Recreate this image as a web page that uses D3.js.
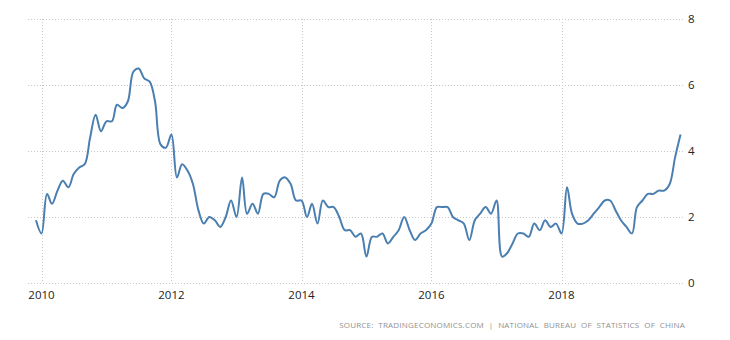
<!DOCTYPE html>
<html>
<head>
<meta charset="utf-8">
<script src="https://cdn.jsdelivr.net/npm/d3@7"></script>
<style>
  html, body { margin: 0; padding: 0; background: #fff; }
  svg { display: block; }
</style>
</head>
<body>
<svg id="chart" width="730" height="340"></svg>
<script>
// China consumer price inflation, year-on-year %, monthly from Dec 2009
const startYear = 2009, startMonth = 11; // 0-based month index (December)
const inflation = [
  1.9,
  1.5, 2.7, 2.4, 2.8, 3.1, 2.9, 3.3, 3.5, 3.6, 4.4, 5.1, 4.6,
  4.9, 4.9, 5.4, 5.3, 5.5, 6.4, 6.5, 6.2, 6.1, 5.5, 4.2, 4.1,
  4.5, 3.2, 3.6, 3.4, 3.0, 2.2, 1.8, 2.0, 1.9, 1.7, 2.0, 2.5,
  2.0, 3.2, 2.1, 2.4, 2.1, 2.7, 2.7, 2.6, 3.1, 3.2, 3.0, 2.5,
  2.5, 2.0, 2.4, 1.8, 2.5, 2.3, 2.3, 2.0, 1.6, 1.6, 1.4, 1.5,
  0.8, 1.4, 1.4, 1.5, 1.2, 1.4, 1.6, 2.0, 1.6, 1.3, 1.5, 1.6,
  1.8, 2.3, 2.3, 2.3, 2.0, 1.9, 1.8, 1.3, 1.9, 2.1, 2.3, 2.1,
  2.5, 0.8, 0.9, 1.2, 1.5, 1.5, 1.4, 1.8, 1.6, 1.9, 1.7, 1.8,
  1.5, 2.9, 2.1, 1.8, 1.8, 1.9, 2.1, 2.3, 2.5, 2.5, 2.2, 1.9,
  1.7, 1.5, 2.3, 2.5, 2.7, 2.7, 2.8, 2.8, 3.0, 3.8, 4.5
];
const yearTicks = [2010, 2012, 2014, 2016, 2018];
const valueTicks = [0, 2, 4, 6, 8];
const sourceText = "SOURCE: TRADINGECONOMICS.COM | NATIONAL BUREAU OF STATISTICS OF CHINA";

const series = inflation.map((v, i) => ({ date: new Date(startYear, startMonth + i, 1), value: v }));

const svg = d3.select("#chart");
const plot = { left: 28, right: 685, top: 19, bottom: 283 };

const x = d3.scaleTime()
  .domain([new Date(2010, 0, 1), new Date(2018, 0, 1)])
  .range([41.5, 561.5]);
const y = d3.scaleLinear().domain([0, 8]).range([plot.bottom, plot.top]);

const gridColor = "#c8c8c8";

// horizontal grid lines with labels on the right
const yAxis = svg.append("g");
yAxis.selectAll("line").data(valueTicks).join("line")
  .attr("x1", plot.left).attr("x2", plot.right)
  .attr("y1", d => Math.round(y(d)) + 0.5).attr("y2", d => Math.round(y(d)) + 0.5)
  .attr("stroke", gridColor).attr("stroke-width", 1).attr("stroke-dasharray", "1,2");
yAxis.selectAll("text").data(valueTicks).join("text")
  .attr("x", 688).attr("y", d => y(d) + 4)
  .attr("font-family", "'Open Sans', sans-serif").attr("font-size", 11.5)
  .attr("fill", "#222").text(d => d);

// vertical grid lines at year ticks with labels below
const xAxis = svg.append("g");
xAxis.selectAll("line").data(yearTicks).join("line")
  .attr("x1", d => Math.round(x(new Date(d, 0, 1))) + 0.5)
  .attr("x2", d => Math.round(x(new Date(d, 0, 1))) + 0.5)
  .attr("y1", plot.top).attr("y2", plot.bottom)
  .attr("stroke", gridColor).attr("stroke-width", 1).attr("stroke-dasharray", "1,2");
xAxis.selectAll("text").data(yearTicks).join("text")
  .attr("x", d => x(new Date(d, 0, 1))).attr("y", 299)
  .attr("text-anchor", "middle")
  .attr("font-family", "'Open Sans', sans-serif").attr("font-size", 11.5)
  .attr("fill", "#222").text(d => d);

// inflation line
const line = d3.line()
  .x(d => x(d.date))
  .y(d => y(d.value))
  .curve(d3.curveCatmullRom.alpha(0.5));

svg.append("path")
  .datum(series)
  .attr("d", line)
  .attr("fill", "none")
  .attr("stroke", "#4a7fb0")
  .attr("stroke-width", 2)
  .attr("stroke-linejoin", "round");

// source note
svg.append("text")
  .attr("x", 685).attr("y", 328)
  .attr("text-anchor", "end")
  .attr("font-family", "'Open Sans', sans-serif").attr("font-size", 8)
  .attr("letter-spacing", "0.2px")
  .attr("word-spacing", "2.5px")
  .attr("fill", "#909090")
  .text(sourceText);
</script>
</body>
</html>
